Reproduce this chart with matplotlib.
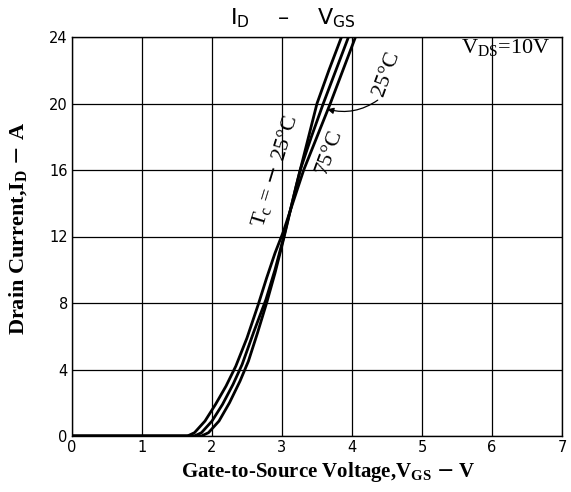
import matplotlib
matplotlib.use("Agg")
import matplotlib.pyplot as plt

# ---- data ----
x_ticks = [0, 1, 2, 3, 4, 5, 6, 7]
y_ticks = [0, 4, 8, 12, 16, 20, 24]

vgs_m25 = [0.0, 1.85, 1.95, 2.10, 2.25, 2.40, 2.52, 2.65, 2.78, 2.90, 3.02, 3.20, 3.35, 3.50, 3.67, 3.85]
id_m25 = [0.0, 0.0, 0.2, 0.9, 2.0, 3.3, 4.5, 6.2, 8.0, 9.8, 11.8, 15.0, 17.5, 20.0, 22.0, 24.0]

vgs_25 = [0.0, 1.75, 1.85, 2.00, 2.15, 2.30, 2.43, 2.60, 2.77, 2.90, 3.02, 3.26, 3.42, 3.59, 3.77, 3.95]
id_25 = [0.0, 0.0, 0.2, 0.9, 1.9, 3.1, 4.3, 6.3, 8.2, 10.0, 11.9, 16.0, 18.0, 20.0, 22.0, 24.0]

vgs_75 = [0.0, 1.65, 1.75, 1.90, 2.05, 2.20, 2.34, 2.50, 2.66, 2.78, 2.90, 3.02, 3.31, 3.50, 3.69, 3.87, 4.05]
id_75 = [0.0, 0.0, 0.2, 0.9, 1.9, 3.0, 4.2, 5.9, 7.9, 9.5, 11.0, 12.3, 16.0, 18.0, 20.0, 22.0, 24.0]

W, H = 571, 492
fig = plt.figure(figsize=(W / 100, H / 100), dpi=100)
ax = fig.add_axes([72 / W, 56 / H, 490 / W, 399 / H])

for v, i in [(vgs_m25, id_m25), (vgs_25, id_25), (vgs_75, id_75)]:
    ax.plot(v, i, color="black", lw=2.0, solid_joinstyle="round")

ax.set_xlim(0, 7)
ax.set_ylim(0, 24)
ax.set_xticks(x_ticks)
ax.set_yticks(y_ticks)
ax.grid(True, color="black", lw=0.9)
ax.set_axisbelow(True)
for s in ax.spines.values():
    s.set_color("black")
    s.set_linewidth(1.0)
ax.tick_params(length=0, labelsize=10.5, pad=3)

serif = "Liberation Serif"
ax.set_xlabel(r"Gate-to-Source Voltage,V$_{\mathregular{GS}}$ $-$ V",
              fontfamily=serif, fontweight="bold", fontsize=15)
ax.set_ylabel(r"Drain Current,I$_{\mathregular{D}}$ $-$ A",
              fontfamily=serif, fontweight="bold", fontsize=16)
ax.xaxis.set_label_coords((328 - 72) / 490, -0.06)
ax.yaxis.set_label_coords(-0.085, (436 - 229) / 399)

fig.text(293 / W, 1 - 18 / H, r"I$_{\mathregular{D}}$    –    V$_{\mathregular{GS}}$",
         ha="center", va="center", fontsize=16, fontfamily="DejaVu Sans")

ax.text(6.2, 23.3, r"V$_{\mathregular{DS}}$=10V", ha="center", va="center",
        fontfamily=serif, fontsize=16)

ax.text(2.9, 15.9, r"T$_{\mathregular{c}}$ = $-$ 25°C", rotation=73,
        ha="center", va="center", fontfamily=serif, fontsize=16)
ax.text(3.68, 17.1, "75°C", rotation=70, ha="center", va="center",
        fontfamily=serif, fontsize=16)
ax.text(4.5, 21.8, "25°C", rotation=70, ha="center", va="center",
        fontfamily=serif, fontsize=16)
ax.annotate("", xy=(3.61, 19.7), xytext=(4.4, 20.3),
            arrowprops=dict(arrowstyle="-|>", color="black", lw=0.9,
                            mutation_scale=9,
                            connectionstyle="arc3,rad=-0.25"))

fig.savefig("out.png", dpi=100)
